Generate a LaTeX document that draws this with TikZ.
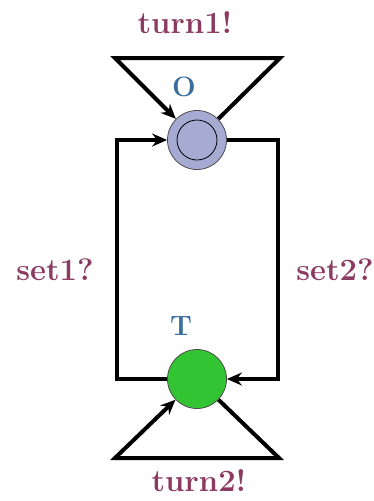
\documentclass[tikz,border=0pt]{standalone}
\usepackage{xcolor}
\usepackage{tikz}
\usetikzlibrary{arrows.meta}
\definecolor{locblue}{HTML}{A5ABD2}
\definecolor{locgreen}{HTML}{33C433}
\definecolor{syncred}{HTML}{8B3A62}
\definecolor{namebl}{HTML}{3C6E9C}

\begin{document}
\begin{tikzpicture}[x=1pt,y=-1pt,line width=4pt,
    edge/.style={-{Stealth[length=15pt,width=13pt,inset=5pt]}},
    loc/.style={circle,draw=black!70,line width=0.8pt,minimum size=59pt,inner sep=0pt},
    sync/.style={text=syncred,font=\fontsize{31}{34}\selectfont\bfseries},
    locname/.style={text=namebl,font=\fontsize{28}{30}\selectfont\bfseries}]
  \useasboundingbox (0,0) rectangle (373,501);
  % locations
  \node[loc,fill=locblue] (O) at (197,140) {};
  \draw[line width=0.8pt] (O) circle (20pt);
  \node[loc,fill=locgreen] (T) at (197,379) {};
  \node[locname] (Oname) at (184,87) {O};
  \node[locname] (Tname) at (181,326) {T};
  % corners
  \coordinate (tl) at (115,58);
  \coordinate (tr) at (280,58);
  \coordinate (bl) at (115,458);
  \coordinate (br) at (279,458);
  \coordinate (lb) at (117,379);
  \coordinate (lt) at (117,140);
  \coordinate (rt) at (278,140);
  \coordinate (rb) at (278,379);
  % transitions
  \draw[edge] (O) -- (tr) -- (tl) -- (O);
  \draw[edge] (T) -- (br) -- (bl) -- (T);
  \draw[edge] (T) -- (lb) -- (lt) -- (O);
  \draw[edge] (O) -- (rt) -- (rb) -- (T);
  % labels
  \node[sync] (turnA) at (185,23) {turn1!};
  \node[sync] (turnB) at (199,481) {turn2!};
  \node[sync] (setA) at (55,270) {set1?};
  \node[sync] (setB) at (335,270) {set2?};
\end{tikzpicture}
\end{document}
